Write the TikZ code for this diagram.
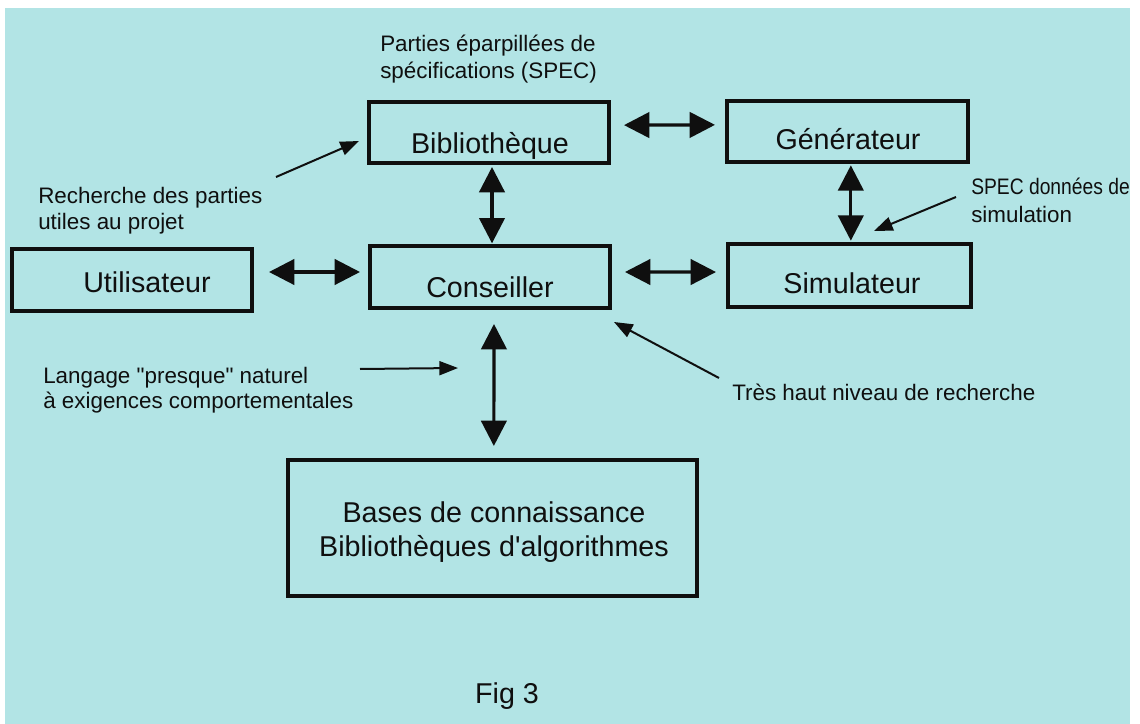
\documentclass[tikz,border=0pt]{standalone}
\usepackage{fontspec}
\setmainfont{Liberation Sans}
\usetikzlibrary{arrows.meta,calc}
\definecolor{bgcyan}{RGB}{178,228,229}
\definecolor{ink}{RGB}{15,15,15}
\begin{document}
\begin{tikzpicture}[x=0.75pt,y=-0.75pt,
  box/.style={draw=ink, line width=3pt, inner sep=0pt},
  boxtext/.style={anchor=base, font=\fontsize{21.5}{26}\selectfont, inner sep=0pt, text=ink},
  anntext/.style={anchor=base west, font=\fontsize{16.8}{20}\selectfont, inner sep=0pt, text=ink},
  dbl/.style={draw=ink, line width=2.4pt, {Triangle[length=19pt,width=19pt]}-{Triangle[length=19pt,width=19pt]}},
  ann/.style={draw=ink, line width=1.5pt, -{Triangle[length=14pt,width=10.5pt]}}]
\path[use as bounding box] (0,0) rectangle (1140,724);
\fill[white] (0,0) rectangle (1140,724);
\fill[bgcyan] (5,8) rectangle (1130,724);

% boxes
\node[box, minimum width=180pt, minimum height=45.75pt] (bib) at (489,132.5) {};
\node[box, minimum width=180.75pt, minimum height=45.75pt] (gen) at (847.5,131.5) {};
\node[box, minimum width=180pt, minimum height=46.5pt] (util) at (132,280) {};
\node[box, minimum width=180pt, minimum height=46.5pt] (cons) at (490,277) {};
\node[box, minimum width=182.25pt, minimum height=47.25pt] (sim) at (849.5,275.5) {};
\node[box, minimum width=306.75pt, minimum height=102pt] (bases) at (492.5,528) {};

% box texts
\node[boxtext] (bibt) at (490,153) {Bibliothèque};
\node[boxtext] (gent) at (848,150) {Générateur};
\node[boxtext] (utilt) at (147,292) {Utilisateur};
\node[boxtext] (const) at (490,297) {Conseiller};
\node[boxtext] (simt) at (852,293) {Simulateur};
\node[boxtext] (bases1) at (494,522) {Bases de connaissance};
\node[boxtext] (bases2) at (494,556) {Bibliothèques d\textquotesingle algorithmes};
\node[boxtext] (fig) at (507,703) {Fig 3};

% annotations
\node[anntext] (p1) at (380,52) {Parties éparpillées de};
\node[anntext] (p2) at (380,79) {spécifications (SPEC)};
\node[anntext] (r1) at (38,204) {Recherche des parties};
\node[anntext] (r2) at (38,229) {utiles au projet};
\node[anntext] (l1) at (43,383) {Langage \textquotedbl presque\textquotedbl{} naturel};
\node[anntext] (l2) at (43,408) {à exigences comportementales};
\node[anntext] (s1) at (971,195) {\scalebox{0.86}[1]{SPEC données de}};
\node[anntext] (s2) at (971,222) {simulation};
\node[anntext] (t1) at (732,400) {Très haut niveau de recherche};

% double arrows
\draw[dbl, shorten <=9.75pt, shorten >=7.5pt] ([yshift=5.5pt]bib.east) -- ([yshift=5pt]gen.west);
\draw[dbl, shorten <=1pt, shorten >=1pt] ([xshift=2.5pt]gen.south) -- ([xshift=1pt]sim.north);
\draw[dbl, shorten <=1.5pt, shorten >=0.5pt] ([xshift=2.25pt]bib.south) -- ([xshift=1.5pt]cons.north);
\draw[dbl, shorten <=11.25pt, shorten >=6pt] ([yshift=6pt]util.east) -- ([yshift=3.75pt]cons.west);
\draw[dbl, shorten <=9.75pt, shorten >=7.5pt] ([yshift=3.75pt]cons.east) -- ([yshift=2.6pt]sim.west);
\draw[dbl, shorten <=10.5pt, shorten >=9pt] ([xshift=3pt]cons.south) -- ([xshift=1pt]bases.north);

% annotation arrows
\coordinate (rtail) at (276,177);
\draw[ann] (rtail) -- ($(bib.west)+(-8,8.5)$);
\coordinate (ltail) at (360,369);
\coordinate (ltip) at (458,368);
\draw[ann] (ltail) -- (ltip);
\coordinate (ttail) at (719,378);
\draw[ann] (ttail) -- ($(cons.south east)+(2,12)$);
\coordinate (stail) at (956,197);
\draw[ann] (stail) -- ($(sim.north)+(24.5,-11)$);
\end{tikzpicture}
\end{document}
